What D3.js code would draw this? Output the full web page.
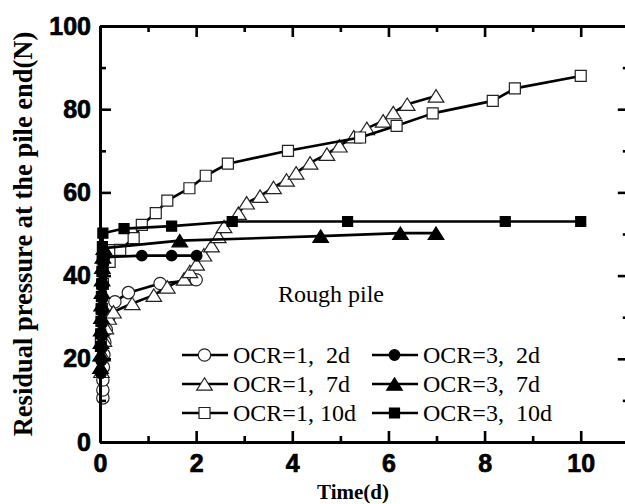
<!DOCTYPE html>
<html>
<head>
<meta charset="utf-8">
<script src="https://cdn.jsdelivr.net/npm/d3@7"></script>
<style>
  body { margin: 0; background: #fff; }
  svg { display: block; }
</style>
</head>
<body>
<svg id="chart" width="625" height="504"></svg>
<script>
// Residual pressure at the pile end (N) against time (d), rough pile
const t_ocr1_2d  = [0.06, 0.06, 0.06, 0.07, 0.08, 0.1, 0.13, 0.18, 0.31, 0.59, 1.25, 2.0];
const v_ocr1_2d  = [10.6, 12.5, 14.9, 18, 21, 24, 27, 30, 33.7, 35.9, 38.1, 39.0];

const t_ocr1_7d  = [0.03, 0.05, 0.08, 0.12, 0.18, 0.28, 0.67, 1.12, 1.4, 1.75, 1.87, 2.01, 2.16, 2.32, 2.46, 2.58, 2.88, 3.05, 3.33, 3.61, 3.88, 4.08, 4.37, 4.72, 4.98, 5.28, 5.55, 5.89, 6.10, 6.39, 6.99];
const v_ocr1_7d  = [17, 21, 24.5, 27.5, 29.8, 31.3, 33.3, 35.3, 37.3, 39.2, 41.0, 42.8, 45.0, 47.2, 49.4, 51.8, 55.0, 57.5, 59.1, 61.2, 63.0, 64.7, 67.1, 69.2, 71.2, 73.4, 75.4, 77.2, 79.2, 81.2, 83.2];

const t_ocr1_10d = [0.02, 0.04, 0.06, 0.2, 0.23, 0.42, 0.7, 0.87, 1.16, 1.4, 1.86, 2.2, 2.66, 3.91, 5.41, 6.17, 6.92, 8.17, 8.63, 10.0];
const v_ocr1_10d = [24, 32, 38, 43.3, 46.1, 46.2, 49.0, 52.2, 55.0, 58.0, 61.0, 64.0, 66.9, 70.0, 73.2, 76.0, 79.0, 82.0, 85.0, 88.0];

const t_ocr3_2d  = [0.02, 0.025, 0.03, 0.035, 0.04, 0.045, 0.05, 0.055, 0.06, 0.07, 0.09, 0.87, 1.49, 2.01];
const v_ocr3_2d  = [16.5, 19.5, 22.5, 25.5, 28.5, 31.5, 34.5, 37.5, 40.5, 42.8, 44.4, 44.8, 44.8, 44.8];

const t_ocr3_7d  = [0.01, 0.015, 0.02, 0.025, 0.03, 0.035, 0.04, 0.045, 0.05, 0.06, 0.08, 1.66, 4.59, 6.25, 6.99];
const v_ocr3_7d  = [18, 21, 24, 27, 30, 33, 36, 39, 42, 44.5, 46.6, 48.4, 49.5, 50.2, 50.2];

const t_ocr3_10d = [0.01, 0.015, 0.02, 0.025, 0.03, 0.035, 0.04, 0.045, 0.05, 0.06, 0.5, 1.49, 2.75, 5.15, 8.43, 10.0];
const v_ocr3_10d = [23, 26, 29, 32, 35, 38, 41, 44, 47, 50.2, 51.3, 51.9, 53.0, 53.0, 53.0, 53.0];

const seriesNames = ["OCR=1,  2d", "OCR=1,  7d", "OCR=1, 10d", "OCR=3,  2d", "OCR=3,  7d", "OCR=3,  10d"];

const xMajorTicks = [0, 2, 4, 6, 8, 10];
const xMinorTicks = [1, 3, 5, 7, 9, 11];
const yMajorTicks = [0, 20, 40, 60, 80, 100];
const yMinorTicks = [10, 30, 50, 70, 90];

const xTitle = "Time(d)";
const yTitle = "Residual pressure at the pile end(N)";
const note = "Rough pile";

// ---- layout ----
const svg = d3.select("#chart");
const x = d3.scaleLinear().domain([0, 11]).range([100, 628.8]);
const y = d3.scaleLinear().domain([0, 100]).range([442, 26]);

const series = [
  { name: seriesNames[0], t: t_ocr1_2d,  v: v_ocr1_2d,  shape: "circle",   filled: false },
  { name: seriesNames[1], t: t_ocr1_7d,  v: v_ocr1_7d,  shape: "triangle", filled: false },
  { name: seriesNames[2], t: t_ocr1_10d, v: v_ocr1_10d, shape: "square",   filled: false },
  { name: seriesNames[3], t: t_ocr3_2d,  v: v_ocr3_2d,  shape: "circle",   filled: true },
  { name: seriesNames[4], t: t_ocr3_7d,  v: v_ocr3_7d,  shape: "triangle", filled: true },
  { name: seriesNames[5], t: t_ocr3_10d, v: v_ocr3_10d, shape: "square",   filled: true }
];

// marker outlines, centred on (0,0)
function markerPath(shape, filled) {
  const p = d3.path();
  if (shape === "circle") {
    const r = filled ? 5.3 : 6.2;
    p.arc(0, 0, r, 0, 2 * Math.PI);
  } else if (shape === "square") {
    const h = filled ? 5 : 5.5;
    p.rect(-h, -h, 2 * h, 2 * h);
  } else {
    const w = 7.8, hh = 6.2;
    p.moveTo(0, -hh); p.lineTo(w, hh); p.lineTo(-w, hh); p.closePath();
  }
  return p.toString();
}

const line = d3.line().x(d => x(d[0])).y(d => y(d[1]));

const plot = svg.append("g");
series.forEach(s => {
  const pts = s.t.map((t, i) => [t, s.v[i]]);
  plot.append("path")
    .attr("d", line(pts))
    .attr("fill", "none")
    .attr("stroke", "#000")
    .attr("stroke-width", 2.6)
    .attr("stroke-linejoin", "round");
  plot.append("g").selectAll("path")
    .data(pts)
    .join("path")
    .attr("transform", d => `translate(${x(d[0])},${y(d[1])})`)
    .attr("d", markerPath(s.shape, s.filled))
    .attr("fill", s.filled ? "#000" : "#fff")
    .attr("stroke", s.filled ? "#000" : "#222")
    .attr("stroke-width", 1.2);
});

// ---- axes (ticks point inward on all four sides) ----
function styleAxis(g) {
  g.select(".domain").attr("stroke", "#000").attr("stroke-width", 3);
  g.selectAll(".tick line").attr("stroke", "#000").attr("stroke-width", 2.6);
  g.selectAll(".tick text")
    .attr("fill", "#000")
    .attr("stroke", "#000")
    .attr("stroke-width", 0.7)
    .style("font-family", "'Liberation Sans', Arial, sans-serif")
    .style("font-weight", "bold")
    .style("font-size", "25px");
}

const axes = svg.append("g");
// bottom
axes.append("g").attr("transform", `translate(0,${y(0)})`)
  .call(d3.axisBottom(x).tickValues(xMajorTicks).tickSize(-11).tickSizeOuter(0).tickPadding(12).tickFormat(d3.format("d")))
  .call(styleAxis);
axes.append("g").attr("transform", `translate(0,${y(0)})`)
  .call(d3.axisBottom(x).tickValues(xMinorTicks).tickSize(-6).tickSizeOuter(0).tickFormat(""))
  .call(styleAxis);
// top
axes.append("g").attr("transform", `translate(0,${y(100)})`)
  .call(d3.axisTop(x).tickValues(xMajorTicks).tickSize(-11).tickSizeOuter(0).tickFormat(""))
  .call(styleAxis);
axes.append("g").attr("transform", `translate(0,${y(100)})`)
  .call(d3.axisTop(x).tickValues(xMinorTicks).tickSize(-6).tickSizeOuter(0).tickFormat(""))
  .call(styleAxis);
// left
axes.append("g").attr("transform", `translate(${x(0)},0)`)
  .call(d3.axisLeft(y).tickValues(yMajorTicks).tickSize(-11).tickSizeOuter(0).tickPadding(9).tickFormat(d3.format("d")))
  .call(styleAxis);
axes.append("g").attr("transform", `translate(${x(0)},0)`)
  .call(d3.axisLeft(y).tickValues(yMinorTicks).tickSize(-6).tickSizeOuter(0).tickFormat(""))
  .call(styleAxis);
// right
axes.append("g").attr("transform", `translate(${x(11)},0)`)
  .call(d3.axisRight(y).tickValues(yMajorTicks).tickSize(-11).tickSizeOuter(0).tickFormat(""))
  .call(styleAxis);
axes.append("g").attr("transform", `translate(${x(11)},0)`)
  .call(d3.axisRight(y).tickValues(yMinorTicks).tickSize(-6).tickSizeOuter(0).tickFormat(""))
  .call(styleAxis);

// ---- titles ----
svg.append("text")
  .attr("x", 353).attr("y", 499)
  .attr("text-anchor", "middle")
  .style("font-family", "'Liberation Serif', 'Times New Roman', serif")
  .style("font-weight", "bold")
  .style("font-size", "21px")
  .text(xTitle);

svg.append("text")
  .attr("transform", "translate(32,234) rotate(-90)")
  .attr("text-anchor", "middle")
  .style("font-family", "'Liberation Serif', 'Times New Roman', serif")
  .style("font-weight", "bold")
  .style("font-size", "26.5px")
  .text(yTitle);

svg.append("text")
  .attr("x", 278).attr("y", 302)
  .style("font-family", "'Liberation Serif', 'Times New Roman', serif")
  .style("font-size", "24px")
  .text(note);

// ---- legend: two columns of three rows ----
const legend = svg.append("g");
const colX = [182, 372];
const rowY = [355, 384, 413];
series.forEach((s, i) => {
  const cx = colX[Math.floor(i / 3)];
  const cy = rowY[i % 3];
  const g = legend.append("g").attr("transform", `translate(${cx},${cy})`);
  g.append("line").attr("x1", 0).attr("x2", 46).attr("y1", 0).attr("y2", 0)
    .attr("stroke", "#000").attr("stroke-width", 2.6);
  g.append("path").attr("transform", "translate(22.5,0)")
    .attr("d", markerPath(s.shape, s.filled))
    .attr("fill", s.filled ? "#000" : "#fff")
    .attr("stroke", s.filled ? "#000" : "#222")
    .attr("stroke-width", 1.2);
  g.append("text").attr("x", 51).attr("y", 8)
    .style("font-family", "'Liberation Serif', 'Times New Roman', serif")
    .style("font-size", "24px")
    .style("white-space", "pre")
    .text(s.name);
});
</script>
</body>
</html>
